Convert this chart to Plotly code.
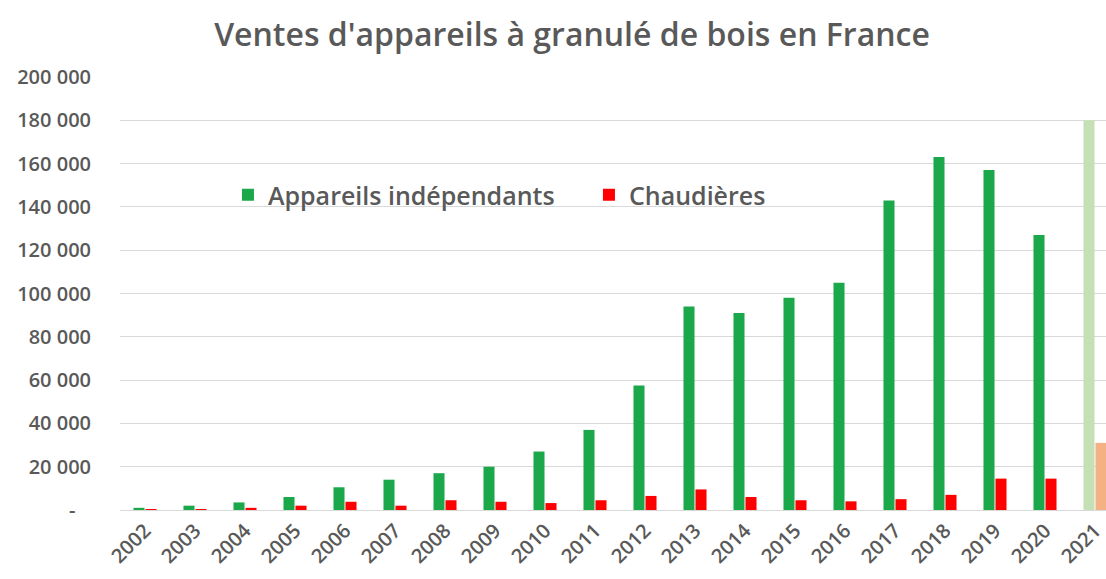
import plotly.graph_objects as go

years = [str(y) for y in range(2002, 2022)]
appareils = [1000, 2000, 3500, 6000, 10500, 14000, 17000, 20000, 27000, 37000,
             57500, 94000, 91000, 98000, 105000, 143000, 163000, 157000, 127000, 180000]
chaudieres = [300, 200, 1000, 2000, 3800, 2000, 4500, 3800, 3200, 4500,
              6500, 9500, 6000, 4500, 4000, 5000, 7000, 14500, 14500, 31000]

green_colors = ["#1BA84A"] * 19 + ["#C5E0B4"]
red_colors = ["#FF0000"] * 19 + ["#F4B183"]

ytick_vals = list(range(0, 200001, 20000))
ytick_text = ["-\u00a0\u00a0\u00a0"] + [f"{v // 1000} 000" for v in ytick_vals[1:]]

GRAY = "#595959"
FONT = "Open Sans"

W, H = 1106, 579

fig = go.Figure()
fig.add_trace(go.Bar(x=years, y=appareils, name="Appareils indépendants",
                     marker=dict(color=green_colors, line=dict(width=0))))
fig.add_trace(go.Bar(x=years, y=chaudieres, name="Chaudières",
                     marker=dict(color=red_colors, line=dict(width=0))))

fig.update_layout(
    width=W, height=H,
    margin=dict(l=120, r=0, t=77, b=69, autoexpand=False),
    paper_bgcolor="white", plot_bgcolor="white",
    barmode="group", bargap=0.52, bargroupgap=0.08,
    title=dict(text="Ventes d'appareils à granulé de bois en France",
               x=572 / W, xanchor="center", xref="container",
               y=1 - 35 / H, yanchor="middle", yref="container",
               font=dict(family=FONT, size=32, color=GRAY, weight=600)),
    showlegend=True,
    legend=dict(orientation="h", x=0.1095, y=(510 - 195) / 433, xanchor="left", yanchor="middle",
                font=dict(family=FONT, size=25, color=GRAY, weight=600),
                bgcolor="rgba(0,0,0,0)", itemwidth=30, entrywidth=316),
    xaxis=dict(type="category", range=[-0.5, 19.22], tickangle=-45,
               tickfont=dict(family=FONT, size=20, color=GRAY, weight=600),
               showgrid=False, showline=True, linecolor="#D9D9D9", linewidth=1,
               ticks="", fixedrange=True, automargin=False),
    yaxis=dict(range=[0, 200000], tickvals=ytick_vals, ticktext=ytick_text,
               tickfont=dict(family=FONT, size=20, color=GRAY, weight=600),
               showgrid=True, gridcolor="#D9D9D9", gridwidth=1,
               zeroline=False, ticks="", ticklabelstandoff=28, automargin=False),
)
fig.write_html("out.html", config={"displayModeBar": False},
               post_script="document.body.style.margin='0';document.body.style.overflow='hidden';")
